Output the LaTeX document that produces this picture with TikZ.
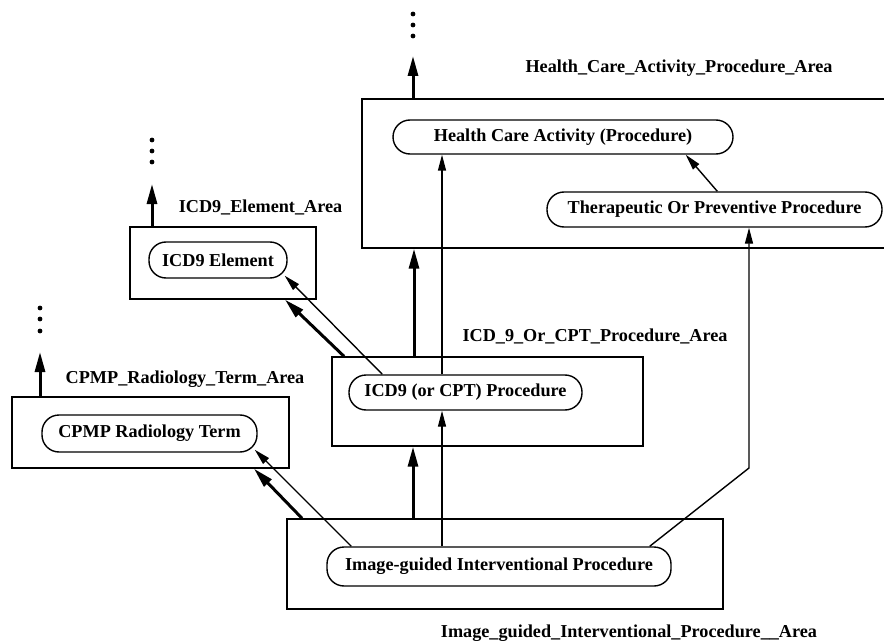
\documentclass[tikz,border=0pt]{standalone}
\usepackage{fontspec}
\setmainfont{Liberation Serif}
\usetikzlibrary{arrows.meta,calc}

\begin{document}
\begin{tikzpicture}[
  x=0.5pt, y=-0.5pt,
  area/.style={draw, line width=0.7pt, inner sep=0pt},
  term/.style={draw, line width=0.7pt, rounded corners=8.5pt, inner sep=0pt,
               font=\fontsize{9.1}{10}\selectfont\bfseries},
  arealabel/.style={font=\fontsize{9.1}{10}\selectfont\bfseries, inner sep=0pt},
  isa/.style={line width=1.5pt, -{Triangle[length=10pt,width=5pt]}},
  rel/.style={line width=0.7pt, -{Triangle[length=8pt,width=4pt]}},
  vdot/.style={fill=black}
]
\useasboundingbox (0,0) rectangle (884,642);
\clip (0,0) rectangle (884,642);

% area frames
\node[area, minimum width=264pt, minimum height=74.5pt] (hA) at (626,173.5) {};
\node[area, minimum width=93pt,  minimum height=36pt]   (eA) at (223,263) {};
\node[area, minimum width=138.5pt, minimum height=35.5pt] (cA) at (150.5,432.5) {};
\node[area, minimum width=155.5pt, minimum height=44.5pt] (pA) at (487.5,401.5) {};
\node[area, minimum width=218pt, minimum height=45pt]   (gA) at (505,564) {};

% area names
\node[arealabel] (hL) at (679,68)  {Health\_Care\_Activity\_Procedure\_Area};
\node[arealabel] (eL) at (260.5,207) {ICD9\_Element\_Area};
\node[arealabel] (pL) at (595,336) {ICD\_9\_Or\_CPT\_Procedure\_Area};
\node[arealabel] (cL) at (185,379) {CPMP\_Radiology\_Term\_Area};
\node[arealabel] (gL) at (629,633) {Image\_guided\_Interventional\_Procedure\_\_Area};

% concept terms
\node[term, minimum width=170pt, minimum height=17pt]   (hN) at (563,137)   {Health Care Activity (Procedure)};
\node[term, minimum width=167.5pt, minimum height=17.5pt] (tN) at (714.5,209.5) {Therapeutic Or Preventive Procedure};
\node[term, minimum width=69pt, minimum height=18pt]    (eN) at (218,260)   {ICD9 Element};
\node[term, minimum width=107.5pt, minimum height=18.5pt] (cN) at (149.5,433.5) {CPMP Radiology Term};
\node[term, minimum width=116.5pt, minimum height=17.5pt] (pN) at (465.5,392.5) {ICD9 (or CPT) Procedure};
\node[term, minimum width=172pt, minimum height=19.5pt] (gN) at (499,566.5) {Image-guided Interventional Procedure};

% open ends above the top areas
\coordinate (hUp) at (413,56);
\coordinate (eUp) at (152,184);
\coordinate (cUp) at (40,352);
\foreach \yy in {14,25,36}  \fill[vdot] (413,\yy) circle[radius=1.2pt];
\foreach \yy in {140,151,162} \fill[vdot] (152,\yy) circle[radius=1.2pt];
\foreach \yy in {308,319,331} \fill[vdot] (40,\yy) circle[radius=1.2pt];

% area-level links
\draw[isa] (hA.north -| 413,0) -- (hUp);
\draw[isa] (eA.north -| 152,0) -- (eUp);
\draw[isa] (cA.north -| 40,0) -- (cUp);
\draw[isa] (gA.north -| 413,0) -- (pA.south -| 413,0);
\draw[isa] (pA.north -| 414,0) -- (hA.south -| 414,0);
\draw[isa] (gA.north -| 302,0) -- (cA.south -| 254,0);
\draw[isa] (pA.north -| 344,0) -- (eA.south -| 285,0);

% term-level links
\coordinate (bend) at (749,468);
\draw[rel] (gN.north -| 442,0) -- (pN.south -| 442,0);
\draw[rel] (pN.north -| 442,0) -- (hN.south -| 442,0);
\draw[rel] ($(pN.north west)+(34,0)$) -- ($(eN.south east)+(-3,-3)$);
\draw[rel] ($(gN.north west)+(25,0)$) -- ($(cN.south east)+(-3,-3)$);
\draw[rel] ($(gN.north east)+(-22,0)$) -- (bend) -- (tN.south -| bend);
\draw[rel] ($(tN.north west)+(171,0)$) -- ($(hN.south east)+(-48,0)$);
\end{tikzpicture}
\end{document}
